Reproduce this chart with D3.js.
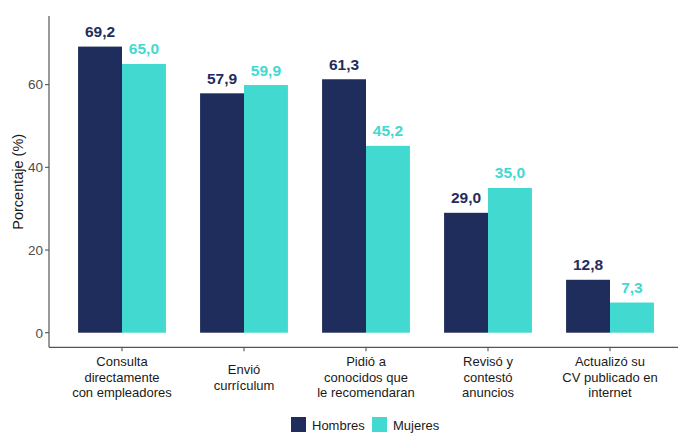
<!DOCTYPE html>
<meta charset="utf-8">
<head>
<style>
body { margin: 0; background: #fff; }
svg { font-family: "Liberation Sans", Arial, sans-serif; }
</style>
<script src="https://d3js.org/d3.v7.min.js"></script>
</head>
<body>
<div id="chart"></div>
<script>
var categories = [
  ["Consulta", "directamente", "con empleadores"],
  ["Envió", "currículum"],
  ["Pidió a", "conocidos que", "le recomendaran"],
  ["Revisó y", "contestó", "anuncios"],
  ["Actualizó su", "CV publicado en", "internet"]
];
var series = ["Hombres", "Mujeres"];
var hombres = [69.2, 57.9, 61.3, 29.0, 12.8];
var mujeres = [65.0, 59.9, 45.2, 35.0, 7.3];
var yTicks = [0, 20, 40, 60];
var colors = ["#1f2d5c", "#41d9d0"];

var width = 678, height = 433;

var svg = d3.select("#chart").append("svg")
    .attr("width", width)
    .attr("height", height);

var x = d3.scaleBand()
    .domain(d3.range(categories.length))
    .range([61, 671])
    .padding(0);
var barW = x.bandwidth() * 0.36;

var y = d3.scaleLinear()
    .domain([-3.53, 76.6])
    .range([347.3, 16]);

var fmt = function(v) { return v.toFixed(1).replace(".", ","); };

// axes
svg.append("line")
    .attr("x1", 49).attr("x2", 49)
    .attr("y1", y.range()[1]).attr("y2", y.range()[0])
    .attr("stroke", "#555").attr("stroke-width", 1.2);
svg.append("line")
    .attr("x1", 49).attr("x2", width)
    .attr("y1", y.range()[0]).attr("y2", y.range()[0])
    .attr("stroke", "#555").attr("stroke-width", 1.2);

var yAxis = svg.append("g");
yTicks.forEach(function(t) {
  yAxis.append("line")
      .attr("x1", 45).attr("x2", 49)
      .attr("y1", y(t)).attr("y2", y(t))
      .attr("stroke", "#555").attr("stroke-width", 1.1);
  yAxis.append("text")
      .attr("x", 43).attr("y", y(t))
      .attr("dy", "0.36em")
      .attr("text-anchor", "end")
      .attr("font-size", 13.5)
      .attr("fill", "#4d4d4d")
      .text(t);
});

svg.append("text")
    .attr("transform", "translate(18," + y(36.5) + ") rotate(-90)")
    .attr("dy", "0.36em")
    .attr("text-anchor", "middle")
    .attr("font-size", 14.5)
    .attr("fill", "#1a1a1a")
    .text("Porcentaje (%)");

// bars
var data = [hombres, mujeres];
data.forEach(function(vals, s) {
  var g = svg.append("g");
  vals.forEach(function(v, i) {
    var cx = x(i) + x.bandwidth() / 2;
    var x0 = s === 0 ? cx - barW : cx;
    g.append("rect")
        .attr("x", x0).attr("width", barW)
        .attr("y", y(v)).attr("height", y(0) - y(v))
        .attr("fill", colors[s]);
    g.append("text")
        .attr("x", x0 + barW / 2)
        .attr("y", y(v) - 9.5)
        .attr("text-anchor", "middle")
        .attr("font-size", 15.5)
        .attr("font-weight", "bold")
        .attr("fill", colors[s])
        .text(fmt(v));
  });
});

// x ticks and labels
categories.forEach(function(lines, i) {
  var cx = x(i) + x.bandwidth() / 2;
  svg.append("line")
      .attr("x1", cx).attr("x2", cx)
      .attr("y1", y.range()[0]).attr("y2", y.range()[0] + 4)
      .attr("stroke", "#555").attr("stroke-width", 1.1);
  var t = svg.append("text")
      .attr("text-anchor", "middle")
      .attr("font-size", 13)
      .attr("fill", "#1a1a1a");
  lines.forEach(function(l, k) {
    t.append("tspan")
        .attr("x", cx)
        .attr("y", 366 + k * 15.7 + (lines.length === 2 ? 7.8 : 0))
        .text(l);
  });
});

// legend
var legX = [291, 372];
series.forEach(function(name, s) {
  svg.append("rect")
      .attr("x", legX[s]).attr("y", 417)
      .attr("width", 15).attr("height", 15)
      .attr("fill", colors[s]);
  svg.append("text")
      .attr("x", legX[s] + 21).attr("y", 425)
      .attr("dy", "0.35em")
      .attr("font-size", 13)
      .attr("fill", "#1a1a1a")
      .text(name);
});
</script>
</body>
